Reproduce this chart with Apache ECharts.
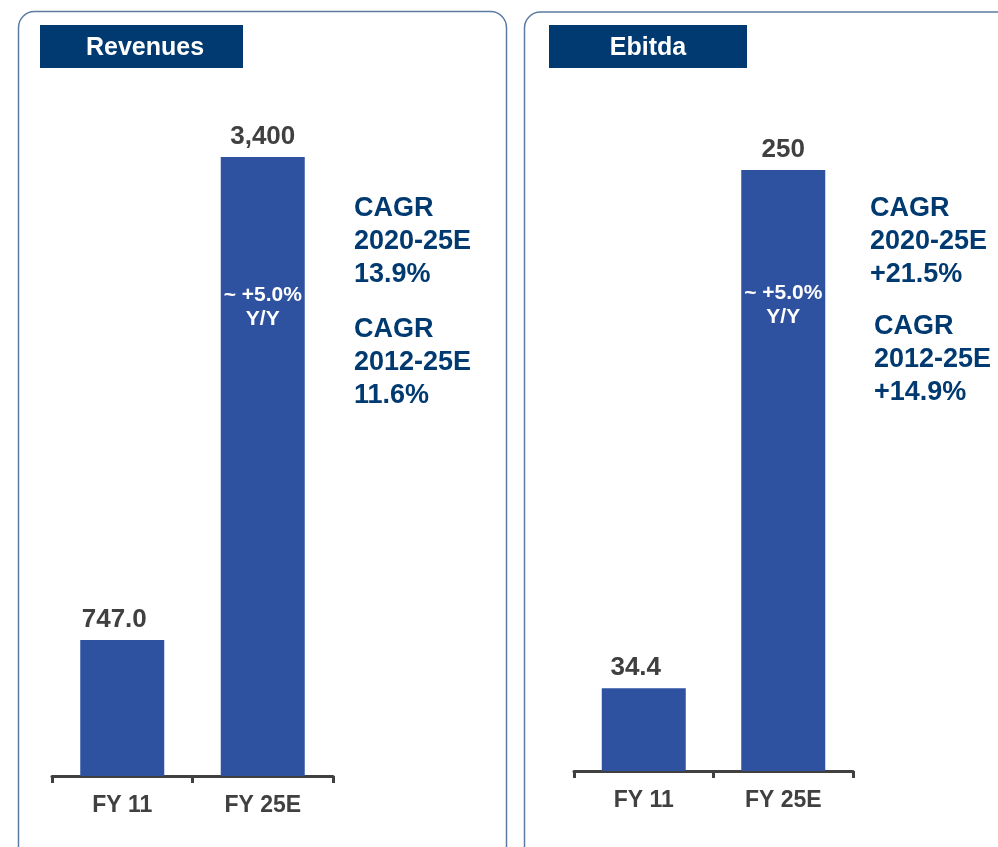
<!DOCTYPE html>
<html><head><meta charset="utf-8">
<script src="https://cdn.jsdelivr.net/npm/echarts@6/dist/echarts.min.js"></script>
<style>html,body{margin:0;padding:0;background:#fff}#c{width:998px;height:847px}</style>
</head><body><div id="c"></div>
<script>
const categories = ['FY 11', 'FY 25E'];
const revenues = [747.0, 3400];
const ebitda = [34.4, 250];
const revenueLabels = ['747.0', '3,400'];
const ebitdaLabels = ['34.4', '250'];
const titles = ['Revenues', 'Ebitda'];
const growthNote = '~ +5.0%\nY/Y';
const revCagr = ['CAGR\n2020-25E\n13.9%', 'CAGR\n2012-25E\n11.6%'];
const ebitdaCagr = ['CAGR\n2020-25E\n+21.5%', 'CAGR\n2012-25E\n+14.9%'];

const FONT = '"Liberation Sans", Arial, sans-serif';
const BAR = '#2F52A0';
const NAVY = '#003A70';
const GREY = '#404040';

const chart = echarts.init(document.getElementById('c'), null, {renderer: 'canvas'});

function xAxis(gi) {
  return {
    type: 'category', gridIndex: gi, data: categories,
    axisLine: {lineStyle: {color: GREY, width: 3}},
    axisTick: {show: true, length: 7, lineStyle: {color: GREY, width: 3}},
    axisLabel: {color: GREY, fontFamily: FONT, fontWeight: 'bold', fontSize: 23, margin: 18}
  };
}
function yAxis(gi, max) {
  return {type: 'value', gridIndex: gi, min: 0, max: max, show: false, splitLine: {show: false}};
}
function mainSeries(gi, data, labels) {
  return {
    type: 'bar', xAxisIndex: gi, yAxisIndex: gi, barWidth: 84,
    data: data.map((v, i) => ({value: v, label: {offset: [i === 0 ? -8 : 0, 0]}})),
    itemStyle: {color: BAR}, silent: true,
    label: {show: true, position: 'top', distance: 7, color: GREY, fontFamily: FONT,
      fontWeight: 'bold', fontSize: 26, formatter: p => labels[p.dataIndex]}
  };
}
function noteSeries(gi, data, offset) {
  return {
    type: 'bar', xAxisIndex: gi, yAxisIndex: gi, data: data, barWidth: 84, barGap: '-100%',
    itemStyle: {color: 'rgba(0,0,0,0)'}, silent: true, z: 5,
    label: {show: true, position: ['50%', offset], align: 'center', verticalAlign: 'top',
      color: '#fff', fontFamily: FONT, fontWeight: 'bold', fontSize: 21, lineHeight: 24,
      formatter: p => p.dataIndex === 1 ? growthNote : ''}
  };
}
function cagrText(x, y, text) {
  return {type: 'text', left: x, top: y, style: {text: text, fill: NAVY, font: 'bold 27px ' + FONT, lineHeight: 33}};
}

chart.setOption({
  animation: false,
  grid: [
    {left: 52, width: 281, top: 157, bottom: 71},
    {left: 574, width: 279, top: 170, bottom: 76}
  ],
  xAxis: [xAxis(0), xAxis(1)],
  yAxis: [yAxis(0, revenues[1]), yAxis(1, ebitda[1])],
  series: [
    mainSeries(0, revenues, revenueLabels),
    noteSeries(0, revenues, 126),
    mainSeries(1, ebitda, ebitdaLabels),
    noteSeries(1, ebitda, 111)
  ],
  graphic: [
    {type: 'rect', shape: {x: 18.5, y: 11.5, width: 488, height: 880, r: 16}, style: {fill: 'none', stroke: '#5B7BA3', lineWidth: 1.5}},
    {type: 'rect', shape: {x: 524.5, y: 12, width: 500, height: 880, r: 16}, style: {fill: 'none', stroke: '#5B7BA3', lineWidth: 1.5}},
    {type: 'rect', shape: {x: 40, y: 25, width: 203, height: 43}, style: {fill: NAVY}},
    {type: 'rect', shape: {x: 549, y: 25, width: 198, height: 43}, style: {fill: NAVY}},
    {type: 'text', x: 145, y: 48, style: {text: titles[0], fill: '#fff', font: 'bold 25px ' + FONT, align: 'center', verticalAlign: 'middle'}},
    {type: 'text', x: 648, y: 48, style: {text: titles[1], fill: '#fff', font: 'bold 25px ' + FONT, align: 'center', verticalAlign: 'middle'}},
    cagrText(354, 192, revCagr[0]),
    cagrText(354, 313, revCagr[1]),
    cagrText(870, 192, ebitdaCagr[0]),
    cagrText(874, 310, ebitdaCagr[1])
  ]
});
</script></body></html>
